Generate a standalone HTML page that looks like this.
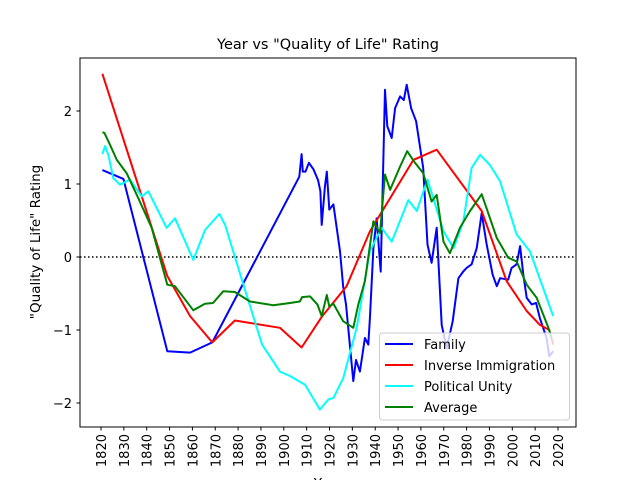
<!DOCTYPE html>
<html><head><meta charset="utf-8"><style>
body{margin:0;background:#fff}
svg{display:block;font-family:"DejaVu Sans","Liberation Sans",sans-serif}
</style></head><body>
<svg id="chart" width="640" height="480" viewBox="0 0 640 480">
<rect width="640" height="480" fill="#fff"/>
<text x="328" y="49" font-size="14.5" text-anchor="middle">Year vs "Quality of Life" Rating</text>
<defs><clipPath id="clip"><rect x="80" y="58" width="496" height="369"/></clipPath></defs>
<g id="xt"></g>
<g id="yt"></g>
<line x1="80" x2="576" y1="257" y2="257" stroke="#000" stroke-width="1.5" stroke-dasharray="1.5,2.5"/>
<g id="lines" clip-path="url(#clip)"></g>
<rect x="80" y="58" width="496" height="369" fill="none" stroke="#000" stroke-width="1"/>
<text transform="translate(40,242) rotate(-90)" font-size="13.5" text-anchor="middle">"Quality of Life" Rating</text>
<text x="328" y="488" font-size="13.5" text-anchor="middle">Year</text>
<g id="legend"></g>
</svg>
<script>
const xTicks=[1820,1830,1840,1850,1860,1870,1880,1890,1900,1910,1920,1930,1940,1950,1960,1970,1980,1990,2000,2010,2020];
const yTicks=[-2,-1,0,1,2];
const seriesNames=["Family","Inverse Immigration","Political Unity","Average"];
const seriesColors=["#0000ff","#ff0000","#00ffff","#008000"];
const familyYears=[1820.6,1829.8,1849,1859,1868.7,1906.8,1907.8,1908.3,1909.5,1911,1913,1915,1916,1916.6,1918,1918.8,1919.9,1921.7,1924.6,1926,1927.2,1930.4,1931.6,1933.3,1935.5,1937,1937.7,1939.2,1940.6,1942.4,1944.3,1945.3,1947.2,1948.7,1950.9,1952.5,1953.8,1955.7,1957.9,1961,1962.9,1964.7,1966.9,1969.1,1971.3,1973.9,1976.4,1978.5,1980,1982.2,1984.4,1986.6,1988.8,1991.4,1993.2,1994.6,1998.2,1999.7,2001.9,2003.4,2004.8,2006.3,2008.5,2010.4,2012.1,2015,2016.2,2017.9];
const familyValues=[1.19,1.07,-1.29,-1.31,-1.17,1.10,1.41,1.17,1.17,1.29,1.2,1.05,0.9,0.44,0.96,1.17,0.65,0.72,0.08,-0.41,-0.65,-1.70,-1.41,-1.57,-1.11,-1.2,-0.84,0.12,0.53,-0.20,2.29,1.79,1.63,2.04,2.20,2.15,2.36,2.04,1.86,1.22,0.17,-0.08,0.40,-0.93,-1.25,-0.88,-0.29,-0.2,-0.15,-0.1,0.12,0.60,0.17,-0.24,-0.40,-0.29,-0.31,-0.15,-0.1,0.15,-0.24,-0.56,-0.65,-0.63,-0.84,-1.11,-1.36,-1.29];
const immigYears=[1820.6,1849,1859,1868.7,1878.6,1898.3,1907.8,1916.6,1927.5,1937.7,1956.7,1966.9,1986.6,1997.5,2006.3,2012.1,2016.2,2017.9];
const immigValues=[2.51,-0.26,-0.81,-1.17,-0.87,-0.97,-1.24,-0.82,-0.40,0.35,1.33,1.47,0.63,-0.33,-0.74,-0.93,-1.0,-1.2];
const unityYears=[1820.6,1821.8,1823.2,1825.4,1828.3,1832.7,1837.8,1840.7,1843.6,1848.7,1852.4,1860.4,1865.5,1871.8,1874.3,1882.3,1890.5,1898.3,1902.7,1909.3,1915.8,1919.5,1921.7,1926,1931.9,1937.7,1942.8,1947.2,1954.5,1958.2,1962.9,1969.9,1974.3,1978.6,1982.2,1985.9,1990.2,1994.6,2001.9,2007.7,2017.9];
const unityValues=[1.41,1.52,1.40,1.08,0.99,1.06,0.83,0.90,0.72,0.40,0.53,-0.04,0.37,0.59,0.44,-0.38,-1.2,-1.57,-1.63,-1.75,-2.09,-1.95,-1.93,-1.66,-0.97,0.08,0.40,0.21,0.78,0.63,1.06,0.35,0.12,0.49,1.22,1.40,1.26,1.04,0.31,0.08,-0.81];
const avgYears=[1820.6,1821.5,1823.9,1826.9,1831.2,1836.3,1842.2,1849,1852.4,1860.4,1865.5,1869,1873.5,1878.6,1885.2,1895.4,1902.7,1907,1908,1911.5,1914.7,1916.6,1918.8,1919.9,1921.7,1926,1930.4,1932.6,1935.5,1939.2,1942.1,1944.3,1946.5,1950.9,1954,1957.4,1961,1964.7,1966.9,1969.9,1972.7,1977.1,1981.5,1986.6,1993.2,1998.2,2001.9,2006.3,2010.7,2015.8,2017.2];
const avgValues=[1.71,1.70,1.54,1.33,1.15,0.81,0.40,-0.38,-0.40,-0.73,-0.64,-0.63,-0.47,-0.48,-0.61,-0.66,-0.63,-0.61,-0.55,-0.54,-0.65,-0.81,-0.52,-0.68,-0.64,-0.88,-0.97,-0.65,-0.33,0.49,0.33,1.13,0.92,1.24,1.45,1.29,1.15,0.76,0.85,0.21,0.05,0.40,0.63,0.86,0.26,-0.01,-0.06,-0.38,-0.56,-0.97,-1.11];
const NS="http://www.w3.org/2000/svg";
const X=y=>101+(y-1820)*2.285;
const Y=v=>257-v*73;
function mk(tag,attrs,parent){const e=document.createElementNS(NS,tag);for(const k in attrs)e.setAttribute(k,attrs[k]);parent.appendChild(e);return e;}
const xt=document.getElementById('xt'),yt=document.getElementById('yt'),lines=document.getElementById('lines'),lg=document.getElementById('legend');
xTicks.forEach(t=>{
  const l=mk('line',{x1:X(t),x2:X(t),y1:427,y2:430.5,stroke:'#000','stroke-width':1},xt);
  
  
  const tx=mk('text',{transform:`translate(${X(t)+5},434) rotate(-90)`,'font-size':13,'text-anchor':'end'},xt);
  tx.textContent=t;
  
  
});
yTicks.forEach(t=>{
  const l=mk('line',{x1:76.5,x2:80,y1:Y(t),y2:Y(t),stroke:'#000','stroke-width':1},yt);
  
  
  const tx=mk('text',{x:72,y:Y(t)+5,'font-size':13,'text-anchor':'end'},yt);
  tx.textContent=t<0?'\u2212'+Math.abs(t):t;
  
  
});
const data=[[familyYears,familyValues],[immigYears,immigValues],[unityYears,unityValues],[avgYears,avgValues]];
const lineNames=['family-line','immigration-line','unity-line','average-line'];
data.forEach((d,i)=>{
  const pts=d[0].map((yr,j)=>X(yr).toFixed(1)+','+Y(d[1][j]).toFixed(1)).join(' ');
  const p=mk('polyline',{points:pts,fill:'none',stroke:seriesColors[i],'stroke-width':2,'stroke-linejoin':'round'},lines);
  
  
});
const bg=mk('rect',{x:379.5,y:333,width:190,height:87,rx:3,fill:'#fff','fill-opacity':0.8,stroke:'#ccc','stroke-width':1},lg);


seriesNames.forEach((n,i)=>{
  const y=344+i*21;
  const l=mk('line',{x1:385,x2:413,y1:y,y2:y,stroke:seriesColors[i],'stroke-width':2},lg);
  
  
  const t=mk('text',{x:424,y:y+5,'font-size':13},lg);
  t.textContent=n;
  
  
});
</script>
</body></html>
